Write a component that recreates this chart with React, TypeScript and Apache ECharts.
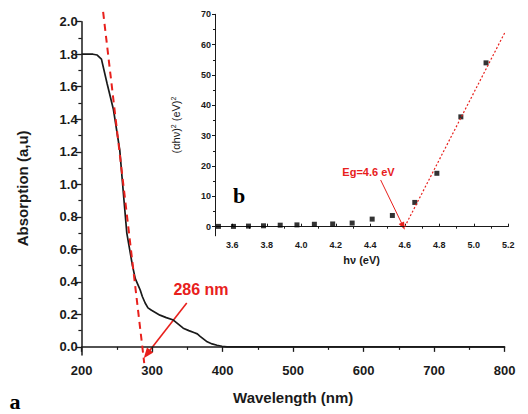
import React, { useEffect, useRef } from "react";
import * as echarts from "echarts";

// UV-Vis absorption spectrum (panel a)
const wavelengthNm = [
  200, 216, 222, 228, 236, 245, 254, 260, 264, 268, 272, 276, 280, 283, 286, 290,
  294, 299, 305, 311, 320, 330, 337, 344, 352, 360, 364, 368, 373, 378, 385, 392,
  399, 406, 420, 450, 500, 600, 700, 800,
];
const absorbance = [
  1.8, 1.8, 1.795, 1.77, 1.62, 1.46, 1.21, 0.9, 0.7, 0.6, 0.5, 0.42, 0.38, 0.35, 0.31, 0.27,
  0.24, 0.225, 0.21, 0.195, 0.18, 0.165, 0.14, 0.115, 0.1, 0.087, 0.08, 0.065, 0.048, 0.031, 0.018, 0.01,
  0.004, 0.0, 0.0, 0.0, 0.0, 0.0, 0.0, 0.0,
];

// absorption-edge tangent, crossing zero at the onset wavelength
const onsetNm = 286;
const tangentNm = [230.4, 288.7];
const tangentAbs = [2.06, -0.1];
const onsetArrowFrom = [349, 0.27];
const onsetArrowTo = [288, -0.07];

// Tauc plot (panel b)
const photonEnergyEv = [
  3.52, 3.607, 3.694, 3.781, 3.878, 3.975, 4.076, 4.182, 4.295, 4.411, 4.528, 4.658, 4.786, 4.925, 5.071,
];
const taucValue = [0.1, 0.1, 0.2, 0.3, 0.5, 0.6, 0.8, 0.9, 1.2, 2.5, 3.7, 8.0, 17.6, 36.2, 54.0];

const bandGapEv = 4.6;
const fitEv = [bandGapEv, 5.18];
const fitValue = [0, 64];
const gapArrowFrom = [4.46, 15.4];
const gapArrowTo = [bandGapEv, -1];

// tick positions
const mainYTicks = [0, 0.2, 0.4, 0.6, 0.8, 1.0, 1.2, 1.4, 1.6, 1.8, 2.0];
const mainYMinor = [0.1, 0.3, 0.5, 0.7, 0.9, 1.1, 1.3, 1.5, 1.7, 1.9];
const insetXTicks = [3.6, 3.8, 4.0, 4.2, 4.4, 4.6, 4.8, 5.0, 5.2];
const insetXMinor = [3.7, 3.9, 4.1, 4.3, 4.5, 4.7, 4.9, 5.1];
const insetYTicks = [0, 10, 20, 30, 40, 50, 60, 70];
const insetYMinor = [5, 15, 25, 35, 45, 55, 65];

const FONT = "'Liberation Sans', Arial, sans-serif";
const SERIF = "'Liberation Serif', 'DejaVu Serif', serif";
const INK = "#1a1a1a";
const RED = "#e8201c";

export default function App() {
  const ref = useRef<HTMLDivElement>(null);

  useEffect(() => {
    if (!ref.current) return;
    const chart = echarts.init(ref.current, undefined, { renderer: "svg" });

    const axisLine = (w: number) => ({ show: true, lineStyle: { color: INK, width: w } });
    const minorAxis = (base: any) => ({
      ...base,
      axisLine: { show: false },
      axisLabel: { show: false },
      splitLine: { show: false },
    });

    const texts: any[] = [
      {
        type: "text",
        x: 201,
        y: 289,
        style: {
          text: `${onsetNm} nm`,
          fill: RED,
          font: `bold 16px ${FONT}`,
          textAlign: "center",
          textVerticalAlign: "middle",
        },
      },
      {
        type: "text",
        x: 368.5,
        y: 171.7,
        style: {
          text: `Eg=${bandGapEv} eV`,
          fill: RED,
          font: `bold 11px ${FONT}`,
          textAlign: "center",
          textVerticalAlign: "middle",
        },
      },
      {
        type: "text",
        x: 15,
        y: 401,
        style: {
          text: "a",
          fill: "#000",
          font: `bold 22px ${SERIF}`,
          textAlign: "center",
          textVerticalAlign: "middle",
        },
      },
      {
        type: "text",
        x: 239,
        y: 195,
        style: {
          text: "b",
          fill: "#000",
          font: `bold 22px ${SERIF}`,
          textAlign: "center",
          textVerticalAlign: "middle",
        },
      },
    ];

    chart.setOption({
      animation: false,
      backgroundColor: "#ffffff",
      grid: [
        { left: 81.7, right: 23.3, top: 21.7, bottom: 59 },
        { left: 215, right: 19.7, top: 14.3, bottom: 178.2 },
      ],
      xAxis: [
        {
          gridIndex: 0,
          type: "value",
          min: 200,
          max: 800,
          interval: 100,
          axisLine: axisLine(1.5),
          axisTick: { length: 5, lineStyle: { color: INK, width: 1.3 } },
          minorTick: { show: true, splitNumber: 2, length: 3, lineStyle: { color: INK, width: 1.2 } },
          splitLine: { show: false },
          minorSplitLine: { show: false },
          axisLabel: { color: INK, fontFamily: FONT, fontWeight: "bold", fontSize: 13, margin: 9 },
          name: "Wavelength (nm)",
          nameLocation: "middle",
          nameGap: 35,
          nameTextStyle: { color: INK, fontFamily: FONT, fontWeight: "bold", fontSize: 15 },
        },
        {
          gridIndex: 1,
          type: "value",
          min: 3.5,
          max: 5.2,
          axisLine: axisLine(1),
          axisTick: { inside: true, length: 3, customValues: insetXTicks, lineStyle: { color: INK } },
          axisLabel: {
            customValues: insetXTicks,
            formatter: (v: number) => v.toFixed(1),
            color: INK,
            fontFamily: FONT,
            fontWeight: "bold",
            fontSize: 9,
            margin: 5,
          },
          splitLine: { show: false },
          name: "h\u03bd (eV)",
          nameLocation: "middle",
          nameGap: 16,
          nameTextStyle: { color: INK, fontFamily: FONT, fontWeight: "bold", fontSize: 11 },
        },
        minorAxis({
          gridIndex: 1,
          type: "value",
          min: 3.5,
          max: 5.2,
          axisTick: { inside: true, length: 2, customValues: insetXMinor, lineStyle: { color: INK } },
        }),
      ],
      yAxis: [
        {
          gridIndex: 0,
          type: "value",
          min: -0.05,
          max: 2.0,
          axisLine: axisLine(1.5),
          axisTick: { length: 6, customValues: mainYTicks, lineStyle: { color: INK, width: 1.3 } },
          axisLabel: {
            customValues: mainYTicks,
            formatter: (v: number) => v.toFixed(1),
            color: INK,
            fontFamily: FONT,
            fontWeight: "bold",
            fontSize: 13,
            margin: 4,
          },
          splitLine: { show: false },
          name: "Absorption (a,u)",
          nameLocation: "middle",
          nameGap: 52,
          nameRotate: 90,
          nameTextStyle: { color: INK, fontFamily: FONT, fontWeight: "bold", fontSize: 15 },
        },
        minorAxis({
          gridIndex: 0,
          type: "value",
          position: "left",
          min: -0.05,
          max: 2.0,
          axisTick: { length: 3.3, customValues: mainYMinor, lineStyle: { color: INK, width: 1.2 } },
        }),
        {
          gridIndex: 1,
          type: "value",
          min: -3,
          max: 70,
          axisLine: axisLine(1),
          axisTick: { length: 3, customValues: insetYTicks, lineStyle: { color: INK } },
          axisLabel: {
            customValues: insetYTicks,
            color: INK,
            fontFamily: FONT,
            fontWeight: "bold",
            fontSize: 9,
            margin: 4,
          },
          splitLine: { show: false },
          name: "(\u03b1h\u03bd){sup|2} (eV){sup|2}",
          nameLocation: "middle",
          nameGap: 33,
          nameRotate: 90,
          nameTextStyle: {
            color: INK,
            fontFamily: FONT,
            fontSize: 11,
            rich: { sup: { fontSize: 7, verticalAlign: "top", color: INK, fontFamily: FONT, padding: [0, 0, 5, 0] } },
          },
        },
        minorAxis({
          gridIndex: 1,
          type: "value",
          position: "left",
          min: -3,
          max: 70,
          axisTick: { length: 2, customValues: insetYMinor, lineStyle: { color: INK } },
        }),
      ],
      series: [
        {
          type: "line",
          xAxisIndex: 0,
          yAxisIndex: 0,
          data: wavelengthNm.map((w, i) => [w, absorbance[i]]),
          showSymbol: false,
          lineStyle: { color: INK, width: 1.7 },
          silent: true,
        },
        {
          type: "line",
          xAxisIndex: 0,
          yAxisIndex: 0,
          clip: false,
          data: tangentNm.map((w, i) => [w, tangentAbs[i]]),
          showSymbol: false,
          lineStyle: { color: RED, width: 2, type: [7, 5] },
          silent: true,
        },
        {
          type: "scatter",
          xAxisIndex: 1,
          yAxisIndex: 2,
          data: photonEnergyEv.map((e, i) => [e, taucValue[i]]),
          symbol: "rect",
          symbolSize: 5,
          itemStyle: { color: "#000" },
          silent: true,
        },
        {
          type: "line",
          xAxisIndex: 1,
          yAxisIndex: 2,
          clip: false,
          data: fitEv.map((e, i) => [e, fitValue[i]]),
          showSymbol: false,
          lineStyle: { color: RED, width: 1.2, type: [2, 2] },
          silent: true,
        },
      ],
      graphic: texts,
    });

    // annotation arrows, placed through the axes' own scales
    const arrow = (from: number[], to: number[], axes: any, width: number, head: number) => {
      const a = chart.convertToPixel(axes, from) as number[];
      const b = chart.convertToPixel(axes, to) as number[];
      const dx = b[0] - a[0];
      const dy = b[1] - a[1];
      const len = Math.hypot(dx, dy);
      const ux = dx / len;
      const uy = dy / len;
      const baseX = b[0] - ux * head * 1.3;
      const baseY = b[1] - uy * head * 1.3;
      const px = -uy * head * 0.5;
      const py = ux * head * 0.5;
      return [
        {
          type: "line",
          silent: true,
          shape: { x1: a[0], y1: a[1], x2: baseX + ux, y2: baseY + uy },
          style: { stroke: RED, lineWidth: width },
        },
        {
          type: "polygon",
          silent: true,
          shape: {
            points: [
              [b[0], b[1]],
              [baseX + px, baseY + py],
              [baseX - px, baseY - py],
            ],
          },
          style: { fill: RED },
        },
      ];
    };

    chart.setOption({
      graphic: [
        ...texts,
        ...arrow(onsetArrowFrom, onsetArrowTo, { xAxisIndex: 0, yAxisIndex: 0 }, 1.6, 8),
        ...arrow(gapArrowFrom, gapArrowTo, { xAxisIndex: 1, yAxisIndex: 2 }, 1, 6),
      ],
    });

    return () => chart.dispose();
  }, []);

  return (
    <div
      ref={ref}
      style={{ position: "fixed", left: 0, top: 0, width: 528, height: 414, background: "#fff" }}
    />
  );
}
